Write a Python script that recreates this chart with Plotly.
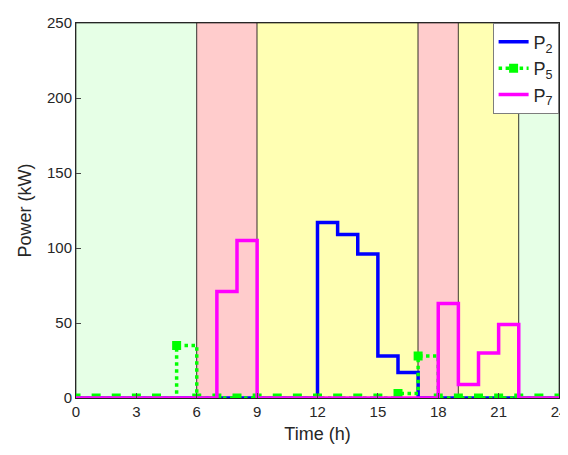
import plotly.graph_objects as go

hours = list(range(25))
p2 = [0]*12 + [117, 109, 96, 28, 17] + [0]*7
p5 = [0]*5 + [35] + [0]*10 + [3, 28] + [0]*6
p7 = [0]*7 + [71, 105] + [0]*9 + [63, 9, 30, 49] + [0]*2
# repeat last value so the final step reaches 24
p2 = p2 + [p2[-1]]
p5 = p5 + [p5[-1]]
p7 = p7 + [p7[-1]]

bands = [(0, 6, '#e6ffe6'), (6, 9, '#ffcccc'), (9, 17, '#ffffb3'),
         (17, 19, '#ffcccc'), (19, 22, '#ffffb3'), (22, 24, '#e6ffe6')]

fig = go.Figure()
for x0, x1, c in bands:
    fig.add_shape(type='rect', x0=x0, x1=x1, y0=0, y1=250, fillcolor=c,
                  line=dict(color='black', width=0.6), layer='below')

fig.add_trace(go.Scatter(x=hours, y=p2, mode='lines', line_shape='hv',
                         line=dict(color='#0000ff', width=3.5), name='P<sub>2</sub>'))
fig.add_trace(go.Scatter(x=hours, y=p5, mode='lines+markers', line_shape='hv',
                         line=dict(color='#00ff00', width=3.5, dash='dot'),
                         marker=dict(symbol='square', size=9, color='#00ff00'),
                         name='P<sub>5</sub>'))
fig.add_trace(go.Scatter(x=hours, y=p7, mode='lines', line_shape='hv',
                         line=dict(color='#ff00ff', width=3.5), name='P<sub>7</sub>'))

fig.update_layout(
    width=568, height=455, plot_bgcolor='white', paper_bgcolor='white',
    margin=dict(l=68, r=17, t=15, b=65, autoexpand=False),
    font=dict(family='Liberation Sans', size=15, color='#262626'),
    legend=dict(x=1, y=1, xanchor='right', yanchor='top', bgcolor='white',
                bordercolor='#262626', borderwidth=0.6, font=dict(size=18)),
)
fig.update_xaxes(range=[0, 24], tickvals=list(range(0, 25, 3)), title_text='Time (h)',
                 showgrid=False, zeroline=False, showline=True, mirror=True,
                 linecolor='#262626', ticks='inside', ticklen=5, automargin=False,
                 title_standoff=8)
fig.update_yaxes(range=[0, 250], dtick=50, title_text='Power (kW)',
                 showgrid=False, zeroline=False, showline=True, mirror=True,
                 linecolor='#262626', ticks='inside', ticklen=5, automargin=False,
                 title_standoff=10)

fig.write_html('out.html')
